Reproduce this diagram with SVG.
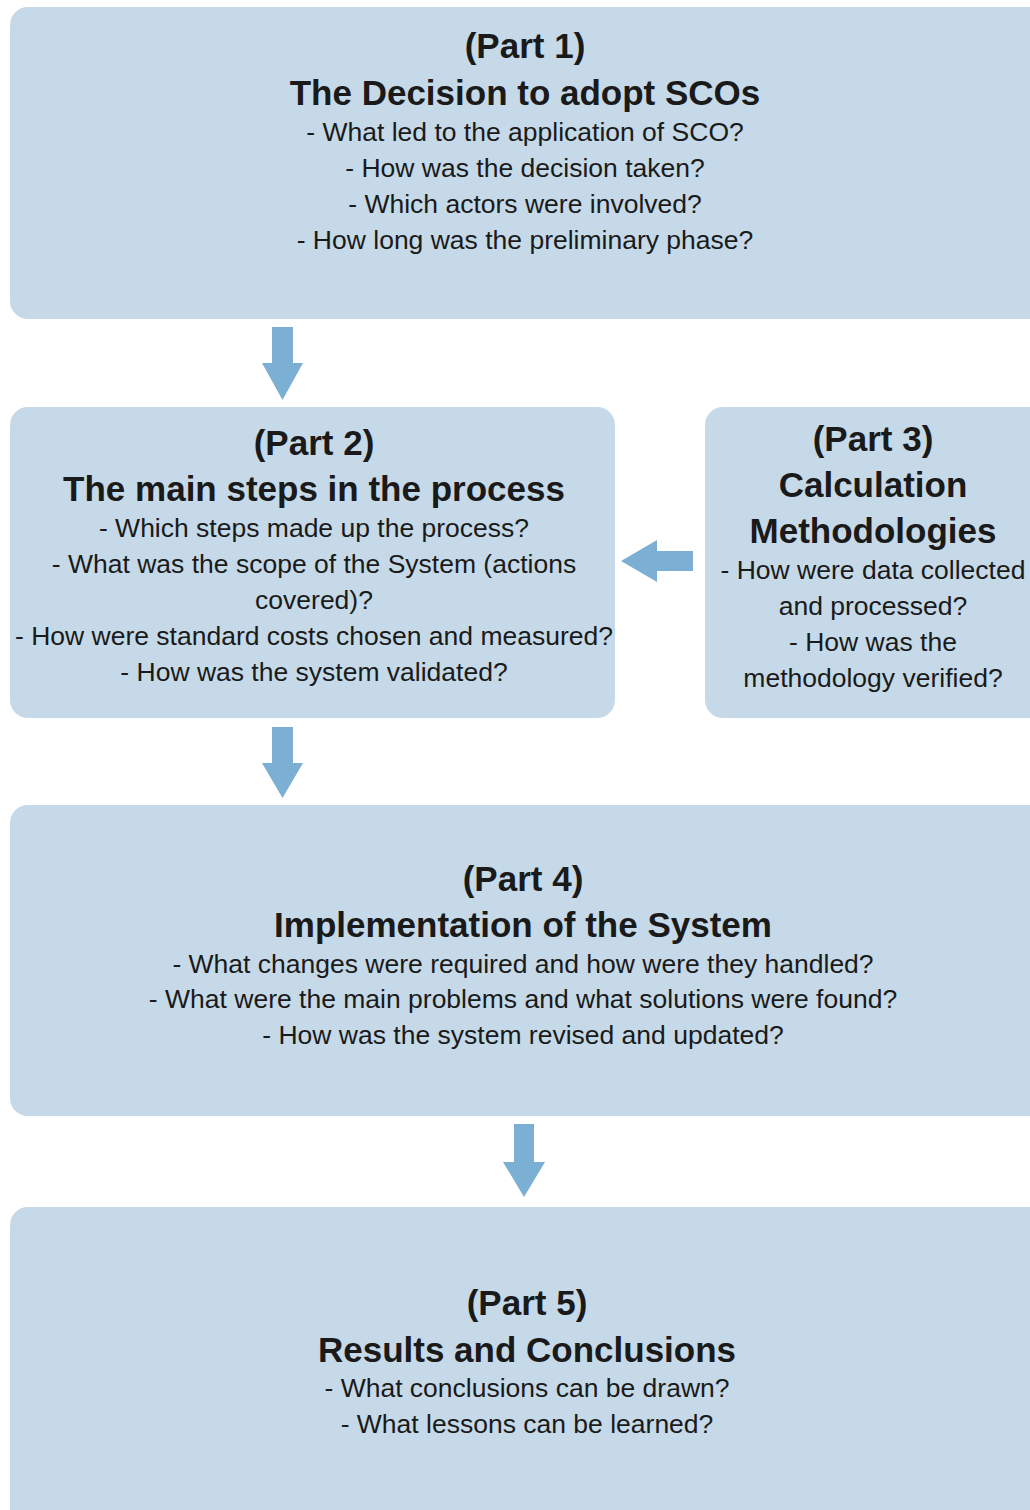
<svg xmlns="http://www.w3.org/2000/svg" width="1030" height="1510" viewBox="0 0 1030 1510">
<style>
.box{fill:#c5d9e8}
.arr{fill:#7bb0d4}
text{font-family:"Liberation Sans",Arial,sans-serif;fill:#1a1a1a;text-anchor:middle}
.h{font-weight:bold;font-size:35px}
.b{font-size:26.5px}
</style>
<rect width="1030" height="1510" fill="#ffffff"/>
<g id="part1">
<rect class="box" x="10" y="7" width="1040" height="312" rx="18"/>
<text class="h" x="525" y="58">(Part 1)</text>
<text class="h" x="525" y="105">The Decision to adopt SCOs</text>
<text class="b" x="525" y="141">- What led to the application of SCO?</text>
<text class="b" x="525" y="177">- How was the decision taken?</text>
<text class="b" x="525" y="213">- Which actors were involved?</text>
<text class="b" x="525" y="249">- How long was the preliminary phase?</text>
</g>
<g id="part2">
<rect class="box" x="10" y="407" width="605" height="311" rx="18"/>
<text class="h" x="314" y="455">(Part 2)</text>
<text class="h" x="314" y="501">The main steps in the process</text>
<text class="b" x="314" y="537">- Which steps made up the process?</text>
<text class="b" x="314" y="573">- What was the scope of the System (actions</text>
<text class="b" x="314" y="609">covered)?</text>
<text class="b" x="314" y="645">- How were standard costs chosen and measured?</text>
<text class="b" x="314" y="681">- How was the system validated?</text>
</g>
<g id="part3">
<rect class="box" x="705" y="407" width="345" height="311" rx="18"/>
<text class="h" x="873" y="451">(Part 3)</text>
<text class="h" x="873" y="497">Calculation</text>
<text class="h" x="873" y="543">Methodologies</text>
<text class="b" x="873" y="579">- How were data collected</text>
<text class="b" x="873" y="615">and processed?</text>
<text class="b" x="873" y="651">- How was the</text>
<text class="b" x="873" y="687">methodology verified?</text>
</g>
<g id="part4">
<rect class="box" x="10" y="805" width="1040" height="311" rx="18"/>
<text class="h" x="523" y="891">(Part 4)</text>
<text class="h" x="523" y="937">Implementation of the System</text>
<text class="b" x="523" y="973">- What changes were required and how were they handled?</text>
<text class="b" x="523" y="1008">- What were the main problems and what solutions were found?</text>
<text class="b" x="523" y="1044">- How was the system revised and updated?</text>
</g>
<g id="part5">
<rect class="box" x="10" y="1207" width="1040" height="340" rx="18"/>
<text class="h" x="527" y="1315">(Part 5)</text>
<text class="h" x="527" y="1362">Results and Conclusions</text>
<text class="b" x="527" y="1397">- What conclusions can be drawn?</text>
<text class="b" x="527" y="1433">- What lessons can be learned?</text>
</g>
<g id="connectors">
<polygon class="arr" points="272,327 293,327 293,363 303,363 282.5,400 262,363 272,363"/>
<polygon class="arr" points="272,727 293,727 293,763 303,763 282.5,798 262,763 272,763"/>
<polygon class="arr" points="514,1124 534,1124 534,1162 545,1162 524,1197 503,1162 514,1162"/>
<polygon class="arr" points="693,551 693,571 657,571 657,582 621,561 657,540 657,551"/>
</g>
</svg>
